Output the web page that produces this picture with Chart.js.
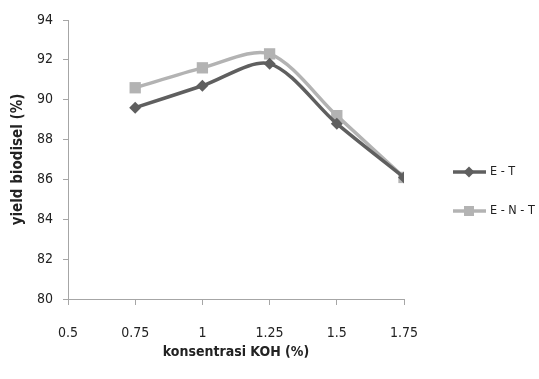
<!DOCTYPE html>
<html>
<head>
<meta charset="utf-8">
<script src="https://cdn.jsdelivr.net/npm/chart.js@4/dist/chart.umd.min.js"></script>
<style>
html,body{margin:0;padding:0;background:#fff;}
#wrap{width:539px;height:379px;position:relative;}
</style>
</head>
<body>
<div id="wrap"><canvas id="c" width="539" height="379"></canvas></div>
<script>
const xValues = [0.75, 1, 1.25, 1.5, 1.75];
const seriesET = [89.6, 90.7, 91.8, 88.8, 86.1];
const seriesENT = [90.6, 91.6, 92.3, 89.2, 86.1];
const seriesNames = ['E - T', 'E - N - T'];
const xTickLabels = ['0.5', '0.75', '1', '1.25', '1.5', '1.75'];
const yTickLabels = ['80', '82', '84', '86', '88', '90', '92', '94'];

const FONT = "'Liberation Sans Narrow', 'DejaVu Sans Condensed', 'Open Sans', sans-serif";
const pts = arr => arr.map((v, i) => ({x: xValues[i], y: v}));

const legendPlugin = {
  id: 'customLegend',
  afterDraw(chart) {
    const ctx = chart.ctx;
    const ys = [172, 211];
    chart.data.datasets.forEach((ds, i) => {
      const y = ys[i];
      ctx.save();
      ctx.strokeStyle = ds.borderColor;
      ctx.lineWidth = 3.5;
      ctx.beginPath();
      ctx.moveTo(453, y);
      ctx.lineTo(486, y);
      ctx.stroke();
      ctx.fillStyle = ds.backgroundColor;
      ctx.beginPath();
      if (ds.pointStyle === 'rectRot') {
        const r = 5.5;
        ctx.moveTo(469, y - r); ctx.lineTo(469 + r, y); ctx.lineTo(469, y + r); ctx.lineTo(469 - r, y); ctx.closePath();
      } else {
        ctx.rect(469 - 5, y - 5, 10, 10);
      }
      ctx.fill();
      ctx.fillStyle = '#222';
      ctx.font = "12.5px " + FONT;
      ctx.textBaseline = 'middle';
      ctx.textAlign = 'left';
      ctx.fillText(ds.label, 490, y);
      ctx.restore();
    });
  }
};

new Chart(document.getElementById('c'), {
  type: 'line',
  data: {
    datasets: [
      {
        label: seriesNames[0],
        data: pts(seriesET),
        borderColor: '#5f5f5f',
        backgroundColor: '#5f5f5f',
        borderWidth: 3.5,
        pointStyle: 'rectRot',
        pointRadius: 6,
        pointBorderWidth: 0,
        tension: 0.3
      },
      {
        label: seriesNames[1],
        data: pts(seriesENT),
        borderColor: '#b3b3b3',
        backgroundColor: '#b3b3b3',
        borderWidth: 3.5,
        pointStyle: 'rect',
        pointRadius: 8,
        pointBorderWidth: 0,
        tension: 0.3
      }
    ]
  },
  plugins: [legendPlugin],
  options: {
    responsive: false,
    animation: false,
    layout: {padding: {top: 20, right: 135, left: 8, bottom: 14}},
    plugins: {legend: {display: false}, tooltip: {enabled: false}},
    scales: {
      x: {
        type: 'linear',
        min: 0.5, max: 1.75,
        afterBuildTicks: s => { s.ticks = xTickLabels.map(t => ({value: parseFloat(t)})); },
        ticks: {
          callback: (v, i) => xTickLabels[i],
          font: {family: FONT, size: 14},
          color: '#222',
          padding: 20,
          maxRotation: 0
        },
        grid: {display: true, drawOnChartArea: false, tickLength: 6, color: '#a6a6a6', tickColor: '#a6a6a6'},
        border: {color: '#a6a6a6', width: 1},
        title: {display: true, text: 'konsentrasi KOH (%)', font: {family: FONT, size: 14, weight: 'bold'}, color: '#222', padding: {top: 4, bottom: 4}},
        afterFit: s => { s.height = 66; }
      },
      y: {
        min: 80, max: 94,
        afterBuildTicks: s => { s.ticks = yTickLabels.map(t => ({value: parseFloat(t)})); },
        ticks: {
          callback: (v, i) => yTickLabels[i],
          font: {family: FONT, size: 14},
          color: '#222',
          padding: 10
        },
        grid: {display: true, drawOnChartArea: false, tickLength: 5, color: '#a6a6a6', tickColor: '#a6a6a6'},
        border: {color: '#a6a6a6', width: 1},
        title: {display: true, text: 'yield biodisel (%)', font: {family: FONT, size: 15, weight: 'bold'}, color: '#222', padding: {top: 1, bottom: 4}},
        afterFit: s => { s.width = 60; }
      }
    }
  }
});
</script>
</body>
</html>
